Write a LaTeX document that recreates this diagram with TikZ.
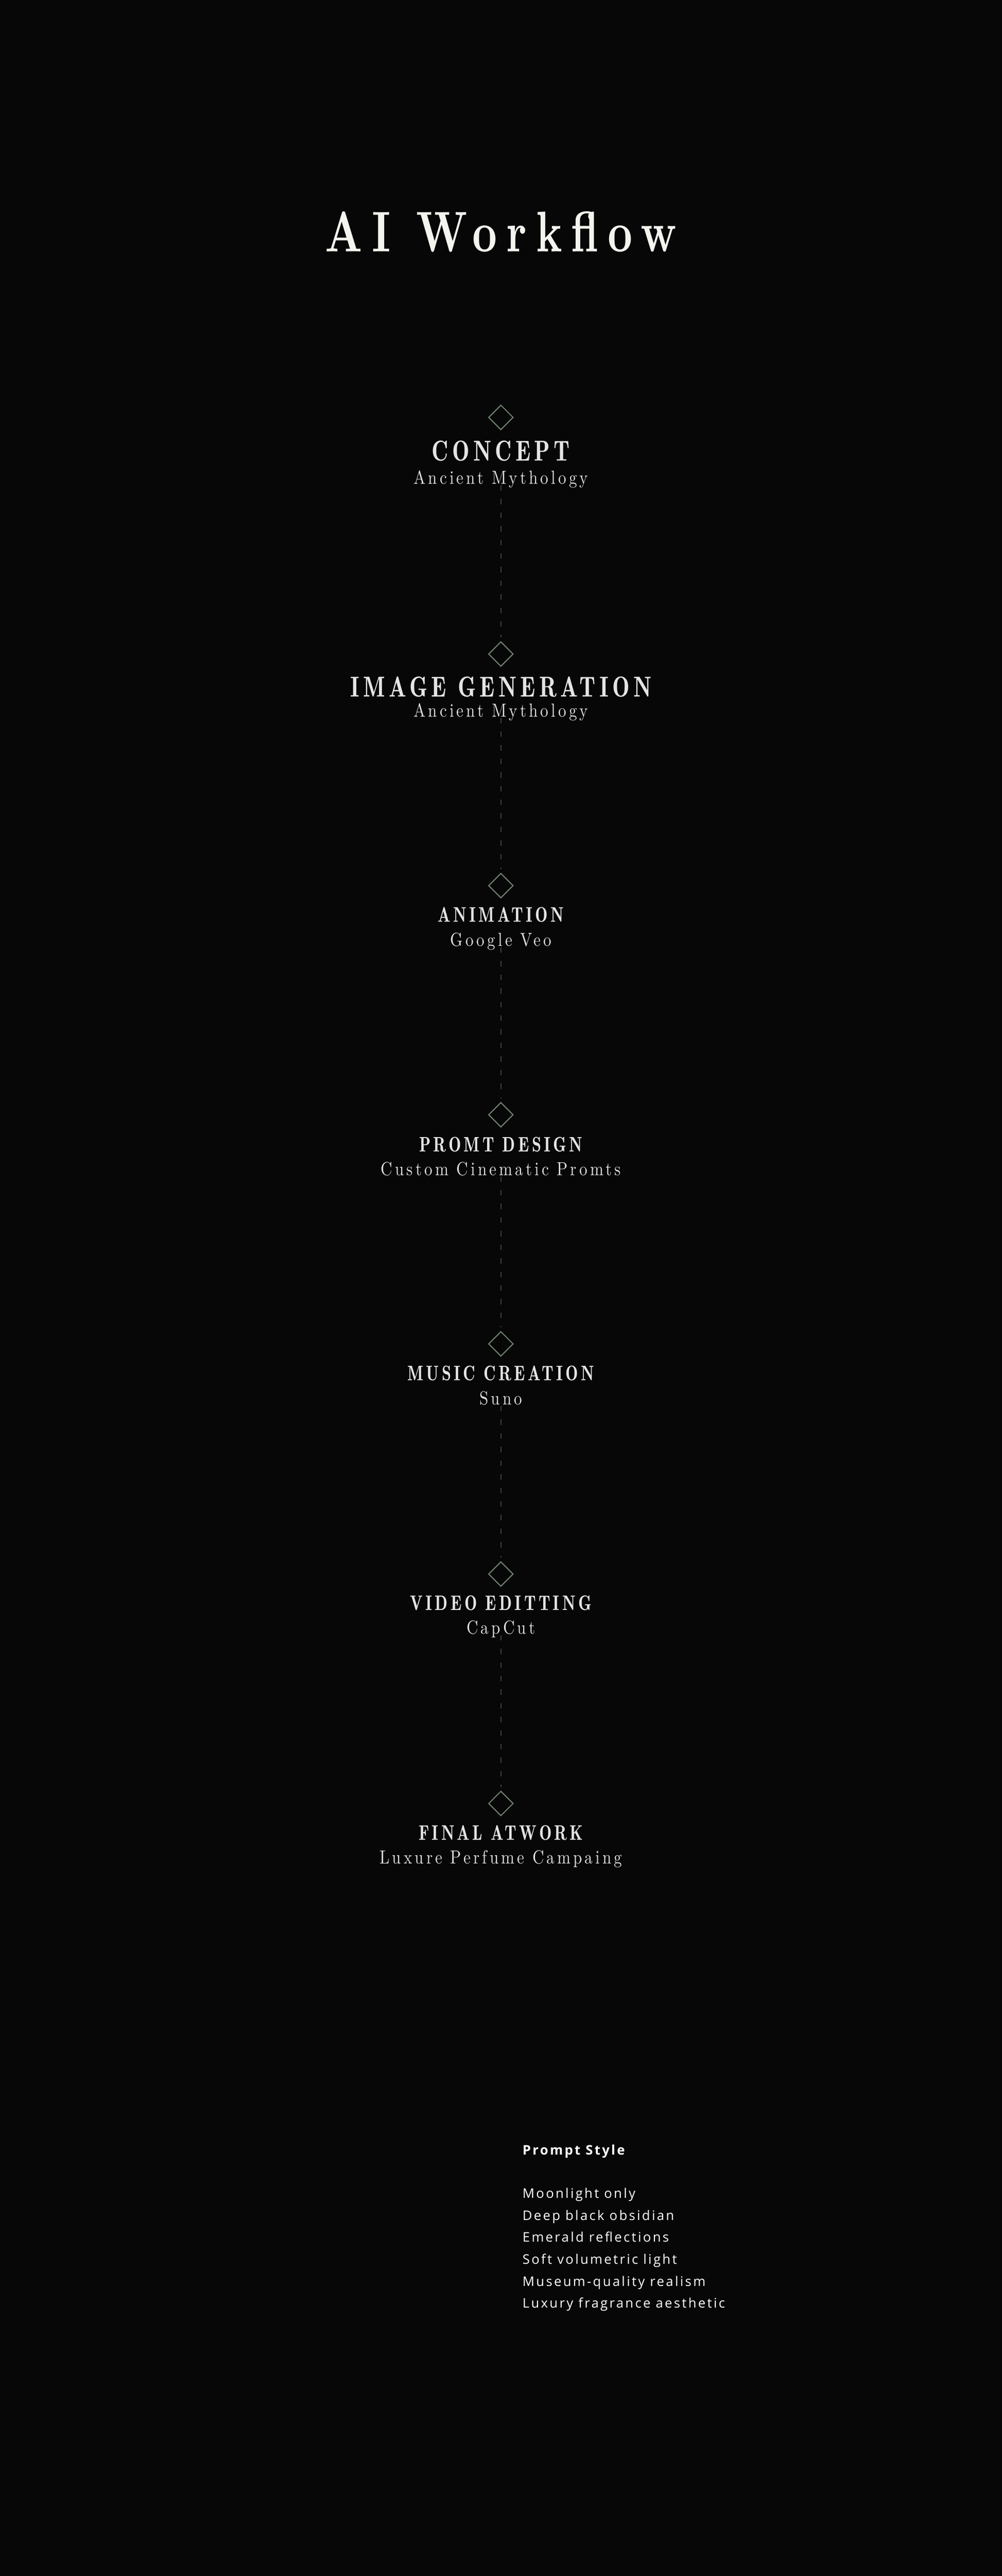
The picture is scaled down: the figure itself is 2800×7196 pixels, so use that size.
\documentclass[tikz,border=0pt]{standalone}
\usepackage{fontspec}
\usepackage{tikz}
\usetikzlibrary{positioning, shapes.geometric}

\newfontfamily\titlefont[FakeStretch=0.75, LetterSpace=16]{lmroman10-bold.otf}
\newfontfamily\stepfont[FakeStretch=0.8, LetterSpace=13]{lmromandemi10-regular.otf}
\newfontfamily\subfont[FakeStretch=0.85, LetterSpace=14]{lmroman10-regular.otf}
\newfontfamily\notefont[LetterSpace=13]{Open Sans}

\definecolor{bg}{HTML}{070707}
\definecolor{titlewhite}{HTML}{F4F4EF}
\definecolor{steptext}{HTML}{E4E4E4}
\definecolor{subtext}{HTML}{E2E2E2}
\definecolor{markgreen}{HTML}{6F826F}
\definecolor{flowgray}{HTML}{404040}

\begin{document}
\begin{tikzpicture}[x=0.01cm, y=-0.01cm]
    % Styles
    \tikzset{
        marker/.style={diamond, draw=markgreen, line width=0.85pt, minimum width=0.68cm, minimum height=0.68cm, inner sep=0pt, outer sep=0pt},
        head_big/.style={anchor=base, inner sep=0pt, text=steptext, font=\stepfont\fontsize{22.9}{26}\selectfont},
        head_small/.style={anchor=base, inner sep=0pt, text=steptext, font=\stepfont\fontsize{16.7}{20}\selectfont},
        sub_text/.style={anchor=base, inner sep=0pt, text=subtext, font=\subfont\fontsize{15}{18}\selectfont},
        flow_line/.style={draw=flowgray, line width=0.6pt, dash pattern=on 0.15cm off 0.23cm, shorten <=1pt, shorten >=0.12cm},
        note_head/.style={anchor=base west, inner sep=0pt, text=white, font=\notefont\bfseries\fontsize{10.5}{12}\selectfont},
        note_item/.style={inner sep=0pt, text=white, text height=0.42cm, text depth=0.18cm, font=\notefont\fontsize{10.5}{12}\selectfont}
    }

    % Background and page size
    \fill[bg] (0,0) rectangle (2800,7196);
    \useasboundingbox (0,0) rectangle (2800,7196);

    % --- Title ---
    \node[anchor=base, inner sep=0pt, text=titlewhite, font=\titlefont\fontsize{45.6}{50}\selectfont] (title) at (1400,703) {AI Workflow};

    % --- Steps ---

    % Concept
    \node[marker] (mark_concept) at (1400,1166) {};
    \node[head_big] (head_concept) at (1400,1288) {CONCEPT};
    \node[sub_text] (sub_concept) at (1400,1352) {Ancient Mythology};

    % Image generation
    \node[marker] (mark_image) at (1400,1827) {};
    \node[head_big] (head_image) at (1400,1946) {IMAGE GENERATION};
    \node[sub_text] (sub_image) at (1400,2002) {Ancient Mythology};

    % Animation
    \node[marker] (mark_anim) at (1400,2474) {};
    \node[head_small] (head_anim) at (1400,2576) {ANIMATION};
    \node[sub_text] (sub_anim) at (1400,2643) {Google Veo};

    % Prompt design
    \node[marker] (mark_promt) at (1400,3114) {};
    \node[head_small] (head_promt) at (1400,3218) {PROMT DESIGN};
    \node[sub_text] (sub_promt) at (1400,3283) {Custom Cinematic Promts};

    % Music creation
    \node[marker] (mark_music) at (1400,3754) {};
    \node[head_small] (head_music) at (1400,3856) {MUSIC CREATION};
    \node[sub_text] (sub_music) at (1400,3924) {Suno};

    % Video editing
    \node[marker] (mark_video) at (1400,4397) {};
    \node[head_small] (head_video) at (1400,4498) {VIDEO EDITTING};
    \node[sub_text] (sub_video) at (1400,4564) {CapCut};

    % Final artwork
    \node[marker] (mark_final) at (1400,5038) {};
    \node[head_small] (head_final) at (1400,5140) {FINAL ATWORK};
    \node[sub_text] (sub_final) at (1400,5206) {Luxure Perfume Campaing};

    % --- Connections ---
    \draw[flow_line] (sub_concept.base) -- (mark_image.north);
    \draw[flow_line] (sub_image.base) -- (mark_anim.north);
    \draw[flow_line] (sub_anim.base) -- (mark_promt.north);
    \draw[flow_line] (sub_promt.base) -- (mark_music.north);
    \draw[flow_line] (sub_music.base) -- (mark_video.north);
    \draw[flow_line] (sub_video.base) -- (mark_final.north);

    % --- Prompt style note ---
    \node[note_head] (prompt_head) at (1460,6019) {Prompt Style};
    \node[note_item, anchor=base west] (item_moon) at (1460,6140) {Moonlight only};
    \node[note_item, below=0pt of item_moon.south west, anchor=north west] (item_obsidian) {Deep black obsidian};
    \node[note_item, below=0pt of item_obsidian.south west, anchor=north west] (item_emerald) {Emerald reflections};
    \node[note_item, below=0pt of item_emerald.south west, anchor=north west] (item_soft) {Soft volumetric light};
    \node[note_item, below=0pt of item_soft.south west, anchor=north west] (item_museum) {Museum-quality realism};
    \node[note_item, below=0pt of item_museum.south west, anchor=north west] (item_luxury) {Luxury fragrance aesthetic};

\end{tikzpicture}
\end{document}
